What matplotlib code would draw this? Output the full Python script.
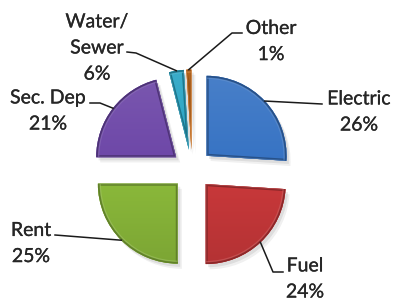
import numpy as np
import matplotlib
matplotlib.use("Agg")
import matplotlib.pyplot as plt
import matplotlib.patheffects as pe
from matplotlib.colors import to_rgb, LinearSegmentedColormap
from matplotlib.patches import Wedge

# ---- data ----
categories = ["Electric", "Fuel", "Rent", "Sec. Dep", "Water/\nSewer", "Other"]
shares = [26, 24, 25, 21, 3, 1]          # slice sizes as drawn
pct_labels = ["26%", "24%", "25%", "21%", "6%", "1%"]   # labels as printed
colors = ["#3874c4", "#c8383a", "#8ab83a", "#6e48a8", "#2aa5c5", "#e07a1f"]

# ---- layout (pixels -> data units, 80 px per unit radius) ----
W, H = 393, 303
CX, CY, S = 192, 169.5, 80.0
def px(X, Y):
    return ((X - CX) / S, (CY - Y) / S)

plt.rcParams['font.family'] = ['Lato', 'DejaVu Sans']
fig = plt.figure(figsize=(W / 100, H / 100), dpi=100)
ax = fig.add_axes([0, 0, 1, 1])

explode = [0.25, 0.25, 0.25, 0.25, 0.25, 0.25]
wedges, _ = ax.pie(shares, colors=colors, startangle=90, counterclock=False,
                   explode=explode, radius=1.0,
                   wedgeprops=dict(linewidth=0))

def shade(c, f):
    r = np.array(to_rgb(c))
    if f >= 0:
        return tuple(r + (1 - r) * f)
    return tuple(r * (1 + f))

for w, c in zip(wedges, colors):
    cx, cy = w.center
    r, t1, t2 = w.r, w.theta1, w.theta2
    # soft shadow
    for k, a in [(0.05, 0.06), (0.03, 0.08)]:
        sh = Wedge((cx + k, cy - k * 1.3), r, t1, t2, facecolor=(0, 0, 0, a),
                   edgecolor='none', zorder=0.5)
        ax.add_patch(sh)
    w.set_zorder(1)
    # gradient fill clipped to wedge
    cmap = LinearSegmentedColormap.from_list("g", [shade(c, -0.10), c, shade(c, 0.08)])
    grad = np.linspace(0, 1, 64).reshape(-1, 1)
    im = ax.imshow(grad, cmap=cmap, origin='lower', aspect='auto',
                   extent=(cx - r, cx + r, cy - r, cy + r), zorder=1.5,
                   interpolation='bilinear')
    im.set_clip_path(w)
    # bevel rim
    rim = Wedge((cx, cy), r, t1, t2, facecolor='none',
                edgecolor=shade(c, -0.3), linewidth=3.0, zorder=2)
    ax.add_patch(rim)
    rim.set_clip_path(w)
    hl = Wedge((cx, cy), r * 0.97, t1, t2, facecolor='none',
               edgecolor=shade(c, 0.25), linewidth=1.0, zorder=2.1, alpha=0.5)
    ax.add_patch(hl)
    hl.set_clip_path(w)

# label text centres (pixels) and leader elbows (pixels)
label_pos = [(359, 112), (305, 279), (31, 243.5), (48, 111), (97, 48), (271, 41.5)]
leader_pts = [
    [(322, 104)],
    [(283, 272), (273, 272)],
    [(55, 235)],
    [(90, 103), (100, 103)],
    [(127, 52), (136, 53)],
    [(242, 33), (232, 33)],
]

for w, name, pct, lp, pts in zip(wedges, categories, pct_labels, label_pos, leader_pts):
    tx, ty = px(*lp)
    ax.text(tx, ty, f"{name}\n{pct}", ha='center', va='center', fontsize=14,
            linespacing=1.65, color='#262626', zorder=5,
            path_effects=[pe.withStroke(linewidth=0.2, foreground='#262626')])
    mid = np.deg2rad((w.theta1 + w.theta2) / 2)
    ex = w.center[0] + w.r * np.cos(mid)
    ey = w.center[1] + w.r * np.sin(mid)
    xs = [px(*p)[0] for p in pts] + [ex]
    ys = [px(*p)[1] for p in pts] + [ey]
    ax.plot(xs, ys, color='#1a1a1a', lw=1.1, zorder=4)

ax.set_aspect('auto')
ax.set_xlim(-CX / S, (W - CX) / S)
ax.set_ylim(-(H - CY) / S, CY / S)
ax.axis('off')
fig.savefig("out.png", dpi=100)
